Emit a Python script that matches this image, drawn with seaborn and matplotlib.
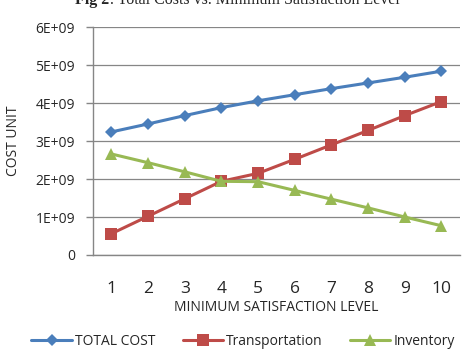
import numpy as np
import pandas as pd
import matplotlib.pyplot as plt
import seaborn as sns

# data
levels = [1, 2, 3, 4, 5, 6, 7, 8, 9, 10]
total_cost = [3.24e9, 3.45e9, 3.67e9, 3.88e9, 4.06e9, 4.22e9, 4.38e9, 4.53e9, 4.68e9, 4.84e9]
transportation = [0.56e9, 1.02e9, 1.48e9, 1.94e9, 2.15e9, 2.52e9, 2.90e9, 3.28e9, 3.67e9, 4.04e9]
inventory = [2.66e9, 2.43e9, 2.19e9, 1.94e9, 1.93e9, 1.70e9, 1.47e9, 1.24e9, 1.00e9, 0.77e9]
y_ticks = [0, 1e9, 2e9, 3e9, 4e9, 5e9, 6e9]
y_tick_labels = ["0", "1E+09", "2E+09", "3E+09", "4E+09", "5E+09", "6E+09"]

df = pd.DataFrame({
    "level": levels * 3,
    "value": total_cost + transportation + inventory,
    "series": ["TOTAL COST"] * 10 + ["Transportation"] * 10 + ["Inventory"] * 10,
})

sns.set_style("white")
plt.rcParams["font.family"] = ["Open Sans", "DejaVu Sans"]

fig = plt.figure(figsize=(4.66, 3.52), dpi=100)
ax = fig.add_axes([0.1996, 0.2756, 0.787, 0.6474])

palette = {"TOTAL COST": "#4A7EBB", "Transportation": "#BE4B48", "Inventory": "#98B954"}
markers = {"TOTAL COST": "D", "Transportation": "s", "Inventory": "^"}
sizes = {"TOTAL COST": 6, "Transportation": 8, "Inventory": 8}

for name in ["TOTAL COST", "Transportation", "Inventory"]:
    sub = df[df["series"] == name]
    sns.lineplot(data=sub, x="level", y="value", ax=ax, color=palette[name],
                 marker=markers[name], markersize=sizes[name], markeredgewidth=0,
                 linewidth=2.2, label=name)

ax.set_xlim(0.5, 10.5)
ax.set_ylim(0, 6e9)
ax.set_yticks(y_ticks)
ax.set_yticklabels(y_tick_labels, fontsize=10)
ax.set_xticks(levels)
ax.set_xticklabels([str(v) for v in levels], fontsize=12.5)
ax.set_xticks(np.arange(0.5, 11, 1), minor=True)
ax.tick_params(axis="x", which="major", length=0, pad=19)
ax.tick_params(axis="x", which="minor", length=5, color="#868686", width=1)
ax.tick_params(axis="y", length=5, color="#868686", width=1, pad=8, left=True)
ax.yaxis.grid(True, color="#868686", linewidth=0.9)
ax.xaxis.grid(False)
for side in ["top", "right"]:
    ax.spines[side].set_visible(False)
for side in ["left", "bottom"]:
    ax.spines[side].set_color("#868686")
    ax.spines[side].set_linewidth(1)

ax.set_xlabel("MINIMUM SATISFACTION LEVEL", fontsize=10, labelpad=2)
ax.set_ylabel("COST UNIT", fontsize=10, labelpad=10)

ax.legend(loc="upper center", bbox_to_anchor=(0.409, -0.29), ncol=3, frameon=False,
          fontsize=10, handlelength=2.9, columnspacing=2.0, handletextpad=0.2)

fig.text(0.235, 1.0, "Fig 2", ha="right", va="center", fontsize=11.5,
         family="Liberation Serif", fontweight="bold")
fig.text(0.235, 1.0, ". Total Costs vs. Minimum Satisfaction Level",
         ha="left", va="center", fontsize=11.5, family="Liberation Serif")

fig.savefig("out.png", dpi=100)
